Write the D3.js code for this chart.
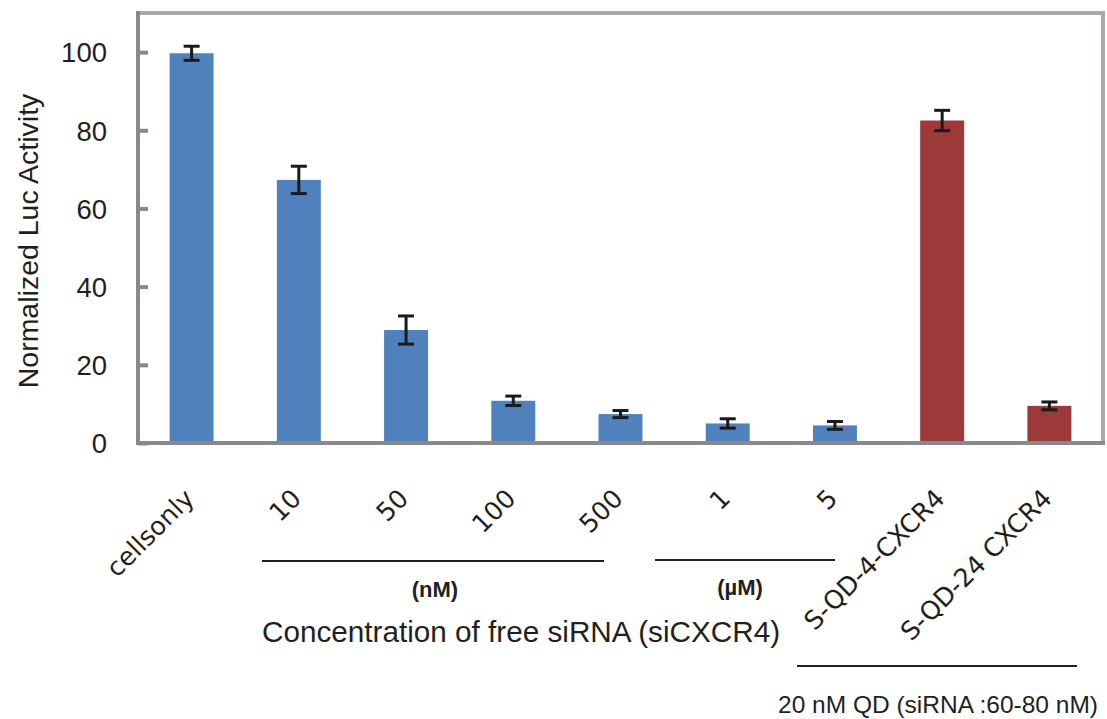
<!DOCTYPE html>
<html>
<head>
<meta charset="utf-8">
<script src="https://cdn.jsdelivr.net/npm/d3@7"></script>
<style>
  body { margin: 0; background: #fff; }
  svg { display: block; }
</style>
</head>
<body>
<svg width="1107" height="719"></svg>
<script>
// bars, left to right
const categories = ['cellsonly', '10', '50', '100', '500', '1', '5', 'S-QD-4-CXCR4', 'S-QD-24 CXCR4'];
const values = [99.7, 67.3, 28.9, 10.8, 7.4, 5.0, 4.5, 82.5, 9.5];
const errors = [1.8, 3.5, 3.6, 1.2, 0.9, 1.2, 1.0, 2.6, 1.0];
const groups = ['free', 'free', 'free', 'free', 'free', 'free', 'free', 'qd', 'qd'];
const yTicks = [0, 20, 40, 60, 80, 100];

const colors = { free: '#4f81bd', qd: '#9c3a3a' };

const svg = d3.select('svg');
const plotLeft = 138, plotRight = 1103, plotTop = 13, plotBottom = 443;

const xScale = d3.scaleBand()
  .domain(categories)
  .range([plotLeft, plotRight])
  .paddingInner(0.59)
  .paddingOuter(0.295);

const yScale = d3.scaleLinear()
  .domain([0, 110])
  .range([plotBottom, plotTop]);

const data = categories.map((c, i) => ({ cat: c, value: values[i], err: errors[i], group: groups[i] }));

// frame: top and right lighter
svg.append('line')
  .attr('x1', plotLeft).attr('x2', plotRight).attr('y1', plotTop).attr('y2', plotTop)
  .attr('stroke', '#a7a9ac').attr('stroke-width', 4);
svg.append('line')
  .attr('x1', plotRight).attr('x2', plotRight).attr('y1', plotTop - 2).attr('y2', plotBottom)
  .attr('stroke', '#a7a9ac').attr('stroke-width', 4);

// bars
svg.selectAll('rect.bar')
  .data(data)
  .enter()
  .append('rect')
  .attr('class', 'bar')
  .attr('x', d => xScale(d.cat))
  .attr('y', d => yScale(d.value))
  .attr('width', xScale.bandwidth())
  .attr('height', d => plotBottom - yScale(d.value))
  .attr('fill', d => colors[d.group]);

// error bars
const eb = svg.selectAll('g.err')
  .data(data)
  .enter()
  .append('g')
  .attr('class', 'err')
  .attr('stroke', '#1a1a1a')
  .attr('stroke-width', 3);
const cx = d => xScale(d.cat) + xScale.bandwidth() / 2;
eb.append('line')
  .attr('x1', cx).attr('x2', cx)
  .attr('y1', d => yScale(d.value + d.err))
  .attr('y2', d => yScale(d.value - d.err));
eb.append('line')
  .attr('x1', d => cx(d) - 8).attr('x2', d => cx(d) + 8)
  .attr('y1', d => yScale(d.value + d.err))
  .attr('y2', d => yScale(d.value + d.err));
eb.append('line')
  .attr('x1', d => cx(d) - 8).attr('x2', d => cx(d) + 8)
  .attr('y1', d => yScale(d.value - d.err))
  .attr('y2', d => yScale(d.value - d.err));

// y axis, ticks pointing inward
const yAxis = svg.append('g')
  .attr('transform', `translate(${plotLeft},0)`)
  .call(d3.axisRight(yScale).tickValues(yTicks).tickSize(10).tickSizeOuter(0).tickFormat(d3.format('d')));
yAxis.select('.domain').remove();
yAxis.selectAll('.tick line').attr('stroke', '#87898c').attr('stroke-width', 4);
yAxis.selectAll('.tick text')
  .attr('x', -31)
  .attr('dy', '0.36em')
  .attr('text-anchor', 'end')
  .attr('font-family', 'Liberation Sans, Arial, sans-serif')
  .attr('font-size', '27.5px')
  .attr('fill', '#231f20');

// left and bottom axis lines
svg.append('line')
  .attr('x1', plotLeft).attr('x2', plotLeft).attr('y1', plotTop - 2).attr('y2', plotBottom + 2)
  .attr('stroke', '#87898c').attr('stroke-width', 4);
svg.append('line')
  .attr('x1', plotLeft).attr('x2', plotRight + 2).attr('y1', plotBottom).attr('y2', plotBottom)
  .attr('stroke', '#87898c').attr('stroke-width', 4);

svg.append('text')
  .attr('transform', 'translate(38,241) rotate(-90)')
  .attr('text-anchor', 'middle')
  .attr('font-family', 'Liberation Sans, Arial, sans-serif')
  .attr('font-size', '28.5px')
  .attr('fill', '#231f20')
  .text('Normalized Luc Activity');

// rotated category labels
svg.selectAll('text.cat')
  .data(data)
  .enter()
  .append('text')
  .attr('class', 'cat')
  .attr('text-anchor', 'end')
  .attr('transform', d => `translate(${cx(d) + 4},500) rotate(-45)`)
  .attr('font-family', 'DejaVu Sans, sans-serif')
  .attr('font-size', '25.5px')
  .attr('fill', '#231f20')
  .text(d => d.cat);

// group brackets
const lines = [
  { x1: 262, x2: 604, y: 561 },
  { x1: 655, x2: 835, y: 560 },
  { x1: 797, x2: 1077, y: 666 }
];
svg.selectAll('line.bracket')
  .data(lines)
  .enter()
  .append('line')
  .attr('class', 'bracket')
  .attr('x1', d => d.x1).attr('x2', d => d.x2)
  .attr('y1', d => d.y).attr('y2', d => d.y)
  .attr('stroke', '#231f20').attr('stroke-width', 2);

svg.append('text')
  .attr('x', 435).attr('y', 597)
  .attr('text-anchor', 'middle')
  .attr('font-family', 'Liberation Sans, Arial, sans-serif')
  .attr('font-weight', 'bold')
  .attr('font-size', '22px')
  .attr('fill', '#231f20')
  .text('(nM)');
svg.append('text')
  .attr('x', 740).attr('y', 595)
  .attr('text-anchor', 'middle')
  .attr('font-family', 'Liberation Sans, Arial, sans-serif')
  .attr('font-weight', 'bold')
  .attr('font-size', '22px')
  .attr('fill', '#231f20')
  .text('(\u00b5M)');
svg.append('text')
  .attr('x', 262).attr('y', 642)
  .attr('font-family', 'Liberation Sans, Arial, sans-serif')
  .attr('font-size', '29.7px')
  .attr('fill', '#231f20')
  .text('Concentration of free siRNA (siCXCR4)');
svg.append('text')
  .attr('x', 778).attr('y', 713)
  .attr('font-family', 'Liberation Sans, Arial, sans-serif')
  .attr('font-size', '24.5px')
  .attr('fill', '#231f20')
  .text('20 nM QD (siRNA :60-80 nM)');
</script>
</body>
</html>
